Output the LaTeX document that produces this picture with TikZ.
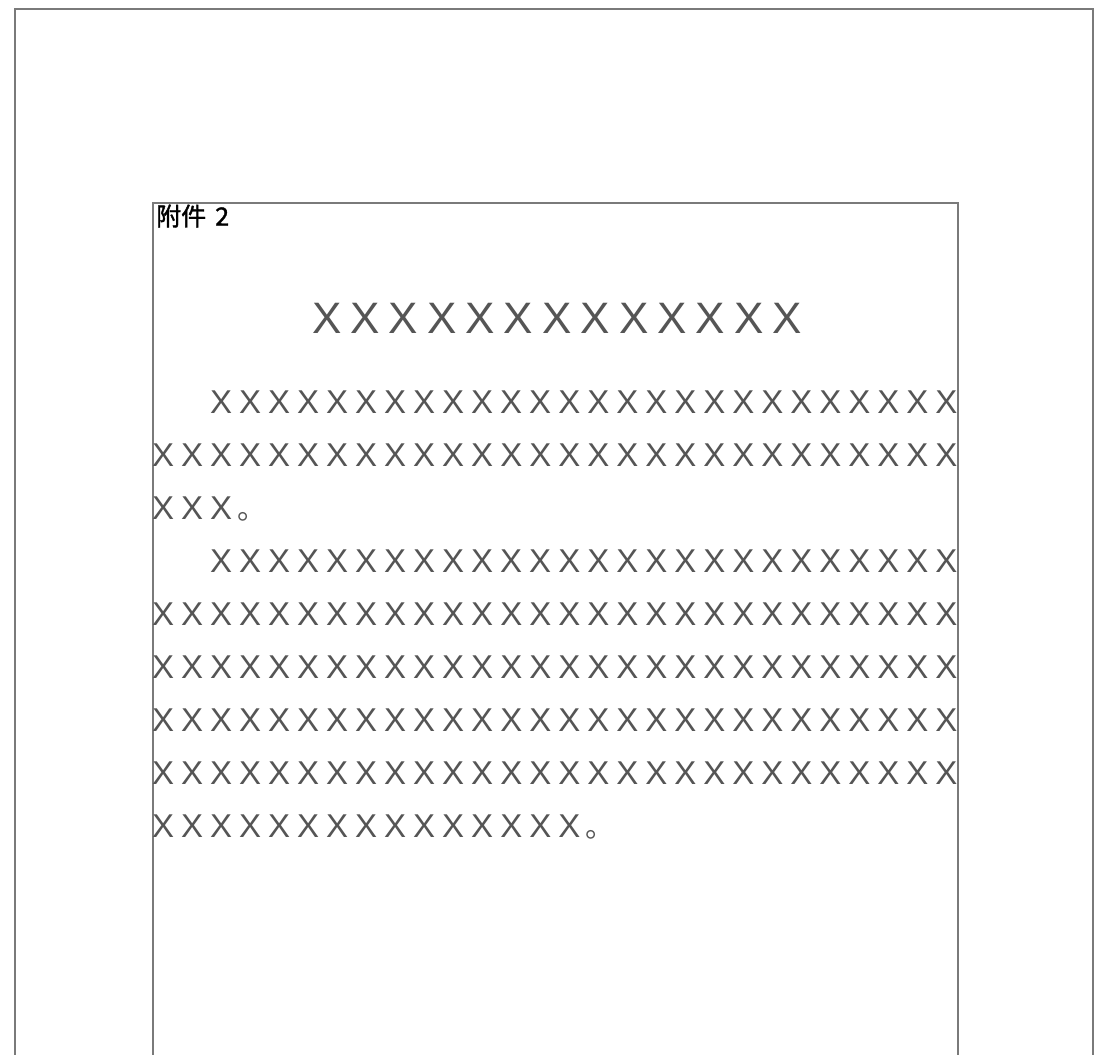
\documentclass[tikz,border=0pt]{standalone}
\usepackage{fontspec}
\usepackage{xcolor}
\usepackage{tikz}
\newfontfamily\cjk{Noto Sans CJK SC}
\newfontfamily\cjkbold[FakeBold=1.4]{Noto Sans CJK SC}
\newfontfamily\xlinha[LetterSpace=21.2]{Liberation Sans}
\newfontfamily\xtitulo[LetterSpace=20.5]{Liberation Sans}
\definecolor{gray500}{HTML}{7A7A7A}
\definecolor{gray700}{HTML}{555555}
\tikzstyle{moldura}=[draw=gray500, line width=1.1pt]
\tikzstyle{linha}=[anchor=base west, inner sep=0pt, text=gray700, font=\xlinha\fontsize{33}{33}\selectfont]
\tikzstyle{titulo}=[anchor=base west, inner sep=0pt, text=gray700, font=\xtitulo\fontsize{44}{44}\selectfont]
\newcommand{\ponto}{\hspace{5pt}{\cjk\fontsize{29}{29}\selectfont 。}}

\begin{document}
\begin{tikzpicture}[x=1pt, y=-1pt]
					\useasboundingbox[fill=white] (0,0) rectangle (1096,1055);
					\path[moldura] (15,1056) -- (15,9) -- (1093,9) -- (1093,1056);
					\path[moldura] (153,1056) -- (153,203) -- (958,203) -- (958,1056);
					\node[anchor=base west, inner sep=0pt, font=\cjkbold\fontsize{25}{25}\selectfont] (anexo) at (156,225.5) {附件\hspace{9pt}2};
					\node[titulo] (tit) at (312,333.8) {XXXXXXXXXXXXX};
					\node[linha] (l1) at (210,413.8) {XXXXXXXXXXXXXXXXXXXXXXXXXX};
					\node[linha] (l2) at (152,466.8) {XXXXXXXXXXXXXXXXXXXXXXXXXXXX};
					\node[linha] (l3) at (152,519.8) {XXX\ponto};
					\node[linha] (l4) at (210,572.8) {XXXXXXXXXXXXXXXXXXXXXXXXXX};
					\node[linha] (l5) at (152,625.8) {XXXXXXXXXXXXXXXXXXXXXXXXXXXX};
					\node[linha] (l6) at (152,678.8) {XXXXXXXXXXXXXXXXXXXXXXXXXXXX};
					\node[linha] (l7) at (152,731.8) {XXXXXXXXXXXXXXXXXXXXXXXXXXXX};
					\node[linha] (l8) at (152,784.8) {XXXXXXXXXXXXXXXXXXXXXXXXXXXX};
					\node[linha] (l9) at (152,837.8) {XXXXXXXXXXXXXXX\ponto};
				\end{tikzpicture}
\end{document}
